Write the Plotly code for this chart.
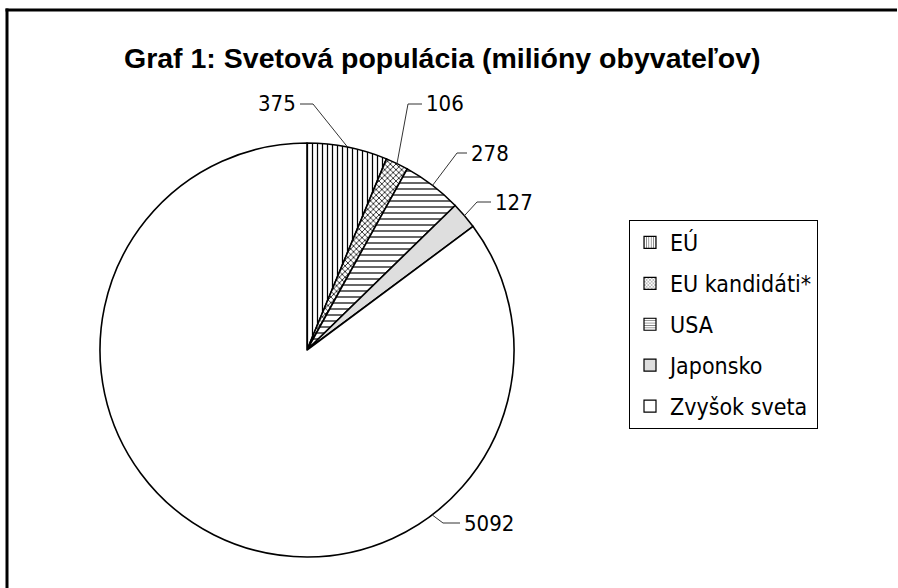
import math
import plotly.graph_objects as go

# Population data (millions)
categories = ["EÚ", "EU kandidáti*", "USA", "Japonsko", "Zvyšok sveta"]
values = [375, 106, 278, 127, 5092]
title_text = "Graf 1: Svetová populácia (milióny obyvateľov)"

# Slice styling
fill_colors = ["white", "white", "white", "#dedede", "white"]
pattern_shapes = ["|", "x", "-", "", ""]
pattern_sizes = [5, 4, 6, 6, 6]
pattern_solidity = [0.25, 0.35, 0.2, 0.2, 0.2]

W, H = 898, 588
CX, CY, R = 307, 350, 207  # pie centre / radius in pixels

LABEL_FONT = "DejaVu Sans Condensed, Liberation Sans Narrow, Arial Narrow, sans-serif"

# where each leader line meets the rim: slice mid-angle, except the big slice
label_angle_override = [None, None, None, None, 142.8]
# knee of each leader line (pixels) and direction of the horizontal tail
label_knees = [(313, 104), (408, 104), (457, 153), (477, 202), (443, 523)]
label_side = [-1, 1, 1, 1, 1]
tail_len = [13, 14, 10, 14, 17]


def px(x):
    return x / W


def py(y):
    return 1 - y / H


fig = go.Figure()

fig.add_trace(go.Pie(
    labels=categories,
    values=values,
    sort=False,
    direction="clockwise",
    rotation=0,
    textinfo="none",
    hoverinfo="label+value",
    showlegend=False,
    domain=dict(x=[px(CX - R), px(CX + R)], y=[py(CY + R), py(CY - R)]),
    marker=dict(
        colors=fill_colors,
        line=dict(color="black", width=1.6),
        pattern=dict(
            shape=pattern_shapes,
            size=pattern_sizes,
            solidity=pattern_solidity,
            fgcolor="black",
            bgcolor=fill_colors,
            fillmode="replace",
        ),
    ),
))

# Legend entries (one group each, so the group gap spaces the rows)
for i, name in enumerate(categories):
    fig.add_trace(go.Bar(
        x=[None], y=[None], name=name,
        legendgroup=f"g{i}",
        marker=dict(
            color=fill_colors[i],
            line=dict(color="black", width=1.2),
            pattern=dict(shape=pattern_shapes[i], size=3,
                         solidity=0.35, fgcolor="black", bgcolor=fill_colors[i]),
        ),
        hoverinfo="skip",
    ))

# Leader lines and value labels
total = sum(values)
shapes = []
annotations = []
cum = 0
for i, v in enumerate(values):
    mid = (cum + v / 2) / total * 360
    cum += v
    ang = label_angle_override[i] if label_angle_override[i] is not None else mid
    rx = CX + R * math.sin(math.radians(ang))
    ry = CY - R * math.cos(math.radians(ang))
    kx, ky = label_knees[i]
    ex = kx + label_side[i] * tail_len[i]
    shapes.append(dict(
        type="path", xref="paper", yref="paper",
        path=f"M {px(rx)} {py(ry)} L {px(kx)} {py(ky)} L {px(ex)} {py(ky)}",
        line=dict(color="#333333", width=1),
    ))
    annotations.append(dict(
        x=px(ex + label_side[i] * 2), y=py(ky), xref="paper", yref="paper",
        text=str(v), showarrow=False,
        xanchor="right" if label_side[i] < 0 else "left", yanchor="middle",
        font=dict(family=LABEL_FONT, size=22, color="black"),
    ))

annotations.append(dict(
    x=px(442), y=py(58), xref="paper", yref="paper",
    text=f"<b>{title_text}</b>", showarrow=False,
    xanchor="center", yanchor="middle",
    font=dict(family="Liberation Sans, Arial, sans-serif", size=28.5, color="black"),
))

# Outer frame: left and top edges as two separate lines
shapes.append(dict(
    type="line", xref="paper", yref="paper",
    x0=px(7), x1=px(7), y0=0, y1=py(8.5),
    line=dict(color="black", width=3),
))
shapes.append(dict(
    type="line", xref="paper", yref="paper",
    x0=px(5.5), x1=px(897), y0=py(10), y1=py(10),
    line=dict(color="black", width=3),
))

fig.update_layout(
    width=W, height=H,
    margin=dict(l=0, r=0, t=0, b=0),
    paper_bgcolor="white", plot_bgcolor="white",
    # the empty legend-only bars live in a small, hidden box behind the legend
    xaxis=dict(visible=False, domain=[0.75, 0.8]),
    yaxis=dict(visible=False, domain=[0.4, 0.5]),
    shapes=shapes, annotations=annotations,
    legend=dict(
        x=px(629), y=py(220), xanchor="left", yanchor="top",
        bordercolor="black", borderwidth=1, bgcolor="white",
        font=dict(family=LABEL_FONT, size=23, color="black"),
        traceorder="grouped", tracegroupgap=8,
    ),
)

fig.write_html("out.html")
